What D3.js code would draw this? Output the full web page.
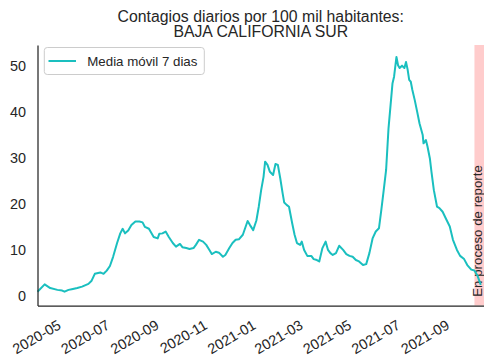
<!DOCTYPE html>
<html>
<head>
<meta charset="utf-8">
<script src="https://cdn.jsdelivr.net/npm/d3@7"></script>
<style>
  html, body { margin: 0; padding: 0; background: #fff; }
  svg { display: block; font-family: "Liberation Sans", Arial, sans-serif; }
</style>
</head>
<body>
<svg id="chart" width="484" height="358"></svg>
<script>
// ---- data ----
const titleLines = ["Contagios diarios por 100 mil habitantes:", "BAJA CALIFORNIA SUR"];
const seriesName = "Media móvil 7 dias";
const bandLabel = "En proceso de reporte";
const dates = [
  "2020-04-01","2020-04-10","2020-04-17","2020-04-26","2020-05-02","2020-05-05","2020-05-10","2020-05-14",
  "2020-05-21","2020-05-27","2020-06-04","2020-06-08","2020-06-12","2020-06-19","2020-06-23","2020-06-27",
  "2020-07-01","2020-07-05","2020-07-10","2020-07-14","2020-07-17","2020-07-20","2020-07-24","2020-07-28",
  "2020-08-02","2020-08-07","2020-08-11","2020-08-14","2020-08-19","2020-08-25","2020-08-30","2020-09-01",
  "2020-09-05","2020-09-09","2020-09-13","2020-09-18","2020-09-22","2020-09-27","2020-09-30","2020-10-05",
  "2020-10-09","2020-10-14","2020-10-17","2020-10-21","2020-10-26","2020-10-30","2020-11-03","2020-11-06",
  "2020-11-11","2020-11-15","2020-11-20","2020-11-23","2020-11-28","2020-12-02","2020-12-06","2020-12-10",
  "2020-12-15","2020-12-21","2020-12-24","2020-12-28","2021-01-01","2021-01-04","2021-01-07","2021-01-10",
  "2021-01-12","2021-01-15","2021-01-18","2021-01-22","2021-01-25","2021-01-28","2021-01-31","2021-02-03",
  "2021-02-05","2021-02-08","2021-02-11","2021-02-15","2021-02-18","2021-02-21","2021-02-25","2021-02-27",
  "2021-03-02","2021-03-06","2021-03-11","2021-03-14","2021-03-18","2021-03-21","2021-03-25","2021-03-29",
  "2021-04-01","2021-04-04","2021-04-07","2021-04-11","2021-04-15","2021-04-20","2021-04-24","2021-04-28",
  "2021-05-02","2021-05-06","2021-05-10","2021-05-15","2021-05-19","2021-05-23","2021-05-27","2021-05-31",
  "2021-06-04","2021-06-07","2021-06-10","2021-06-13","2021-06-16","2021-06-21","2021-06-23","2021-06-26",
  "2021-06-28","2021-06-30","2021-07-03","2021-07-06","2021-07-08","2021-07-10","2021-07-12","2021-07-14",
  "2021-07-16","2021-07-19","2021-07-22","2021-07-25","2021-07-29","2021-07-30","2021-08-02","2021-08-04",
  "2021-08-07","2021-08-09","2021-08-12","2021-08-16","2021-08-19","2021-08-23","2021-08-28","2021-09-01",
  "2021-09-05","2021-09-10","2021-09-14","2021-09-19","2021-09-23","2021-09-28","2021-10-02","2021-10-06",
  "2021-10-10"
];
const values = [
  0.9,2.5,1.7,1.3,1.15,0.9,1.3,1.45,
  1.7,2.0,2.6,3.3,4.8,5.1,4.8,5.5,
  6.5,8.5,11.5,13.6,14.6,13.6,14.2,15.4,
  16.2,16.2,16.0,15.0,14.6,12.8,12.5,13.5,
  13.6,14.0,12.8,11.5,10.7,11.3,10.6,10.4,
  10.2,10.4,11.1,12.2,11.8,11.1,10.0,9.1,
  9.6,9.4,8.5,8.9,10.4,11.5,12.2,12.3,
  13.3,16.3,15.4,14.3,16.4,19.4,23.0,25.9,
  29.2,28.5,27.0,26.3,28.7,28.5,25.6,22.3,
  20.3,19.8,19.4,15.8,13.3,11.5,11.1,11.8,
  10.0,8.7,8.7,8.0,7.8,7.5,10.4,11.8,
  10.0,9.3,8.9,9.3,10.9,10.0,9.1,8.7,
  8.5,7.8,7.5,6.7,6.9,9.3,12.5,14.0,
  14.7,18.7,23.0,27.4,36.4,46.2,47.7,52.0,
  50.2,49.6,50.1,49.6,50.9,49.3,47.0,46.6,
  44.8,42.6,40.1,37.5,35.0,33.2,33.9,32.5,
  29.9,27.0,23.0,19.4,19.1,18.3,16.5,15.1,
  12.2,10.0,8.7,8.0,6.7,5.7,5.5,4.3,
  2.4
];
const xDomain = ["2020-04-01", "2021-10-14"];
const bandRange = ["2021-10-02", "2021-10-14"];
const xTickLabels = ["2020-05","2020-07","2020-09","2020-11","2021-01","2021-03","2021-05","2021-07","2021-09"];
const yTicks = [0, 10, 20, 30, 40, 50];
const yDomain = [-2.1, 54.6];

// ---- layout ----
const W = 484, H = 358;
const m = { left: 37.5, right: 0, top: 45, bottom: 52.5 };
const ink = "#262626";
const parse = d3.timeParse("%Y-%m-%d");
const parseM = d3.timeParse("%Y-%m");
const fmtM = d3.timeFormat("%Y-%m");

const svg = d3.select("#chart");
const x = d3.scaleTime().domain(xDomain.map(parse)).range([m.left, W - m.right]);
const y = d3.scaleLinear().domain(yDomain).range([H - m.bottom, m.top]);

const data = dates.map((d, i) => ({ date: parse(d), value: values[i] }));

// band
svg.append("rect")
  .attr("x", x(parse(bandRange[0])))
  .attr("y", y(yDomain[1]))
  .attr("width", x(parse(bandRange[1])) - x(parse(bandRange[0])))
  .attr("height", y(yDomain[0]) - y(yDomain[1]))
  .attr("fill", "#ffcccc");

// band label
const bx = x(parse(bandRange[0])) + 7.8;
svg.append("text")
  .attr("transform", `translate(${bx},${y(-0.2)}) rotate(-90)`)
  .attr("font-size", "13.3px")
  .attr("fill", ink)
  .text(bandLabel);

// line
svg.append("path")
  .datum(data)
  .attr("fill", "none")
  .attr("stroke", "#1abfbf")
  .attr("stroke-width", 2)
  .attr("stroke-linejoin", "round")
  .attr("d", d3.line().x(d => x(d.date)).y(d => y(d.value)));

// y axis
const yAxis = svg.append("g")
  .attr("transform", `translate(${m.left},0)`)
  .call(d3.axisLeft(y).tickValues(yTicks).tickSize(0).tickPadding(11.5));
yAxis.select(".domain").attr("stroke", ink).attr("stroke-width", 1.25);
yAxis.selectAll("text").attr("font-size", "14.4px").attr("fill", ink)
  .attr("font-family", "Liberation Sans, Arial, sans-serif");

// x axis
const xAxis = svg.append("g")
  .attr("transform", `translate(0,${H - m.bottom})`)
  .call(d3.axisBottom(x).tickValues(xTickLabels.map(parseM)).tickSize(0).tickFormat(fmtM));
xAxis.select(".domain").attr("stroke", ink).attr("stroke-width", 1.25);
const rot = 30;
xAxis.selectAll(".tick text")
  .attr("font-size", "14.4px").attr("fill", ink)
  .attr("font-family", "Liberation Sans, Arial, sans-serif")
  .attr("text-anchor", "end")
  .attr("y", 0).attr("dy", "0.72em")
  .attr("transform", `translate(-5,13.5) rotate(-${rot})`);

// title
svg.append("text")
  .attr("x", (m.left + W - m.right) / 2)
  .attr("text-anchor", "middle")
  .attr("font-size", "15.8px")
  .attr("fill", ink)
  .selectAll("tspan").data(titleLines).join("tspan")
  .attr("x", (m.left + W - m.right) / 2)
  .attr("y", (d, i) => 21.7 + i * 15.6)
  .text(d => d);

// legend
const lg = svg.append("g");
lg.append("rect")
  .attr("x", 44.3).attr("y", 47.5).attr("width", 160).attr("height", 27)
  .attr("rx", 3).attr("fill", "#fff").attr("stroke", "#cccccc").attr("stroke-width", 1);
lg.append("line")
  .attr("x1", 48.5).attr("x2", 76).attr("y1", 61).attr("y2", 61)
  .attr("stroke", "#1abfbf").attr("stroke-width", 2);
lg.append("text")
  .attr("x", 87.3).attr("y", 66)
  .attr("font-size", "13.3px").attr("fill", ink)
  .text(seriesName);
</script>
</body>
</html>
